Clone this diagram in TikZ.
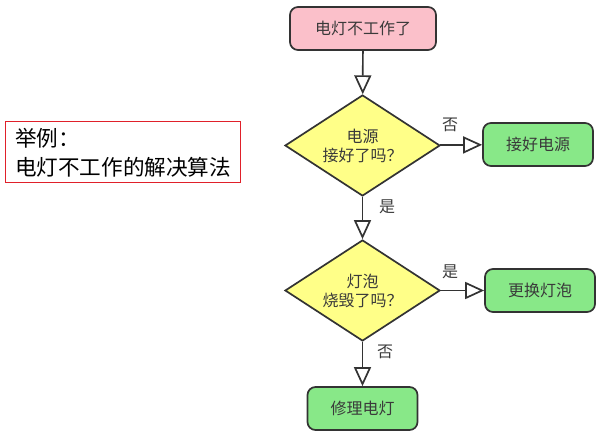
\documentclass[tikz,border=0pt]{standalone}
\usepackage{fontspec}
\setmainfont{Noto Sans CJK SC}
\usetikzlibrary{shapes.geometric, arrows.meta, positioning}
\definecolor{lineclr}{HTML}{333333}
\definecolor{textclr}{HTML}{3A3A3A}
\definecolor{startfill}{HTML}{FBC0CA}
\definecolor{askfill}{HTML}{FFFF88}
\definecolor{dofill}{HTML}{88E888}
\definecolor{noteline}{HTML}{E0202A}
\tikzset{
  flowbox/.style={draw=lineclr, line width=1.7pt, rounded corners=8pt,
    minimum height=43pt, text=textclr, font=\fontsize{16}{19}\selectfont},
  startbox/.style={flowbox, fill=startfill, minimum width=146pt},
  dobox/.style={flowbox, fill=dofill, minimum width=110pt},
  askbox/.style={diamond, draw=lineclr, line width=1.7pt, fill=askfill,
    minimum width=155pt, minimum height=101pt, inner sep=0pt, aspect=1.5,
    align=center, text=textclr, font=\fontsize{16}{19}\selectfont},
  flowarrow/.style={draw=lineclr, line width=1.7pt,
    -{Triangle[open, length=19pt, width=17pt, fill=white]}},
  answer/.style={text=textclr, font=\fontsize{16}{18}\selectfont},
  notebox/.style={draw=noteline, line width=1pt, minimum width=235pt,
    minimum height=61pt, inner xsep=10pt, text width=215pt, align=left,
    font=\fontsize{21.6}{29}\selectfont}
}
\begin{document}
\begin{tikzpicture}[x=1pt, y=-1pt]
    \useasboundingbox (0,0) rectangle (601,435);
    % Note on the left
    \node[notebox] (note) at (122.5,152.5) {举例：\\电灯不工作的解决算法};
    % Boxes and questions
    \node[startbox] (start) at (363,28.5) {电灯不工作了};
    \node[askbox] (power) at (362.5,145.5) {电源\\接好了吗？};
    \node[dobox] (plugin) at (538,144.5) {接好电源};
    \node[askbox] (bulb) at (362.5,290.5) {灯泡\\烧毁了吗？};
    \node[dobox] (swap) at (540,290.5) {更换灯泡};
    \node[dobox] (repair) at (362.5,408.5) {修理电灯};
    % Arrows
    \draw[flowarrow] (start) -- (power);
    \draw[flowarrow] (power) -- (plugin);
    \draw[flowarrow] (power) -- (bulb);
    \draw[flowarrow] (bulb) -- (swap);
    \draw[flowarrow] (bulb) -- (repair);
    % Answers
    \node[answer] (powerno) at (450,125) {否};
    \node[answer] (poweryes) at (387,207) {是};
    \node[answer] (bulbyes) at (450,272) {是};
    \node[answer] (bulbno) at (385,352) {否};
\end{tikzpicture}
\end{document}
